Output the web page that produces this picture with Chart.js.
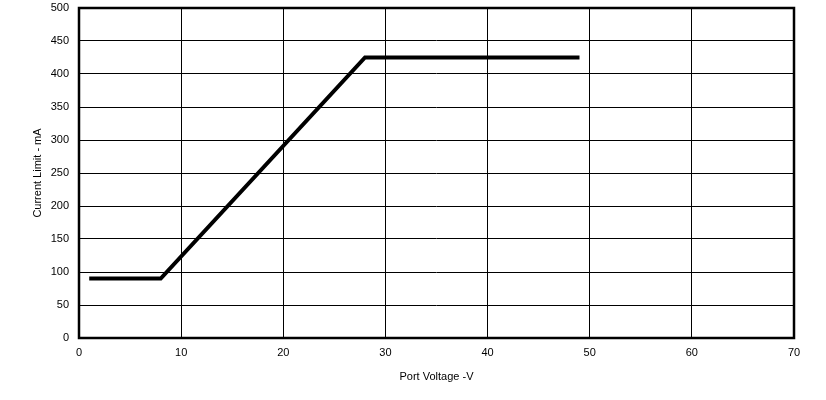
<!DOCTYPE html>
<html>
<head>
<meta charset="utf-8">
<script src="https://cdn.jsdelivr.net/npm/chart.js@4/dist/chart.umd.min.js"></script>
<style>
  html, body { margin: 0; padding: 0; background: #fff; }
  #wrap { width: 826px; height: 400px; }
</style>
</head>
<body>
<div id="wrap"><canvas id="c" width="826" height="400"></canvas></div>
<script>
// port voltage (V) vs current limit (mA)
const voltage = [1, 8, 28, 49];
const currentLimit = [90, 90, 425, 425];
const xTitle = 'Port Voltage -V';
const yTitle = 'Current Limit - mA';

const FONT = "'Liberation Sans', Arial, sans-serif";

// thick frame round the plot area
const frame = {
  id: 'frame',
  afterDraw(chart) {
    const a = chart.chartArea;
    const ctx = chart.ctx;
    ctx.save();
    ctx.strokeStyle = '#000';
    ctx.lineWidth = 2.5;
    ctx.strokeRect(a.left, a.top, a.right - a.left, a.bottom - a.top);
    ctx.restore();
  }
};

new Chart(document.getElementById('c'), {
  type: 'scatter',
  data: {
    datasets: [{
      data: voltage.map((v, i) => ({ x: v, y: currentLimit[i] })),
      showLine: true,
      borderColor: '#000',
      borderWidth: 4,
      borderCapStyle: 'butt',
      borderJoinStyle: 'miter',
      pointRadius: 0,
      tension: 0
    }]
  },
  options: {
    responsive: false,
    animation: false,
    layout: { padding: { top: 8, right: 32, left: 0, bottom: 0 } },
    plugins: { legend: { display: false }, tooltip: { enabled: false } },
    scales: {
      x: {
        type: 'linear',
        min: 0, max: 70,
        ticks: { stepSize: 10, color: '#000', font: { family: FONT, size: 11 }, padding: 8 },
        grid: { color: '#000', lineWidth: 1, drawTicks: false },
        border: { display: false },
        title: { display: true, text: xTitle, color: '#000', font: { family: FONT, size: 11 }, padding: { top: 0, bottom: 16 } },
        afterFit(s) { s.height = 62; s.paddingLeft = 0; s.paddingRight = 0; }
      },
      y: {
        min: 0, max: 500,
        ticks: { stepSize: 50, color: '#000', font: { family: FONT, size: 11 }, padding: 10 },
        grid: { color: '#000', lineWidth: 1, drawTicks: false },
        border: { display: false },
        title: { display: true, text: yTitle, color: '#000', font: { family: FONT, size: 11 }, padding: { top: 31, bottom: 0 } },
        afterFit(s) { s.width = 79; s.paddingTop = 0; s.paddingBottom = 0; }
      }
    }
  },
  plugins: [frame]
});
</script>
</body>
</html>
